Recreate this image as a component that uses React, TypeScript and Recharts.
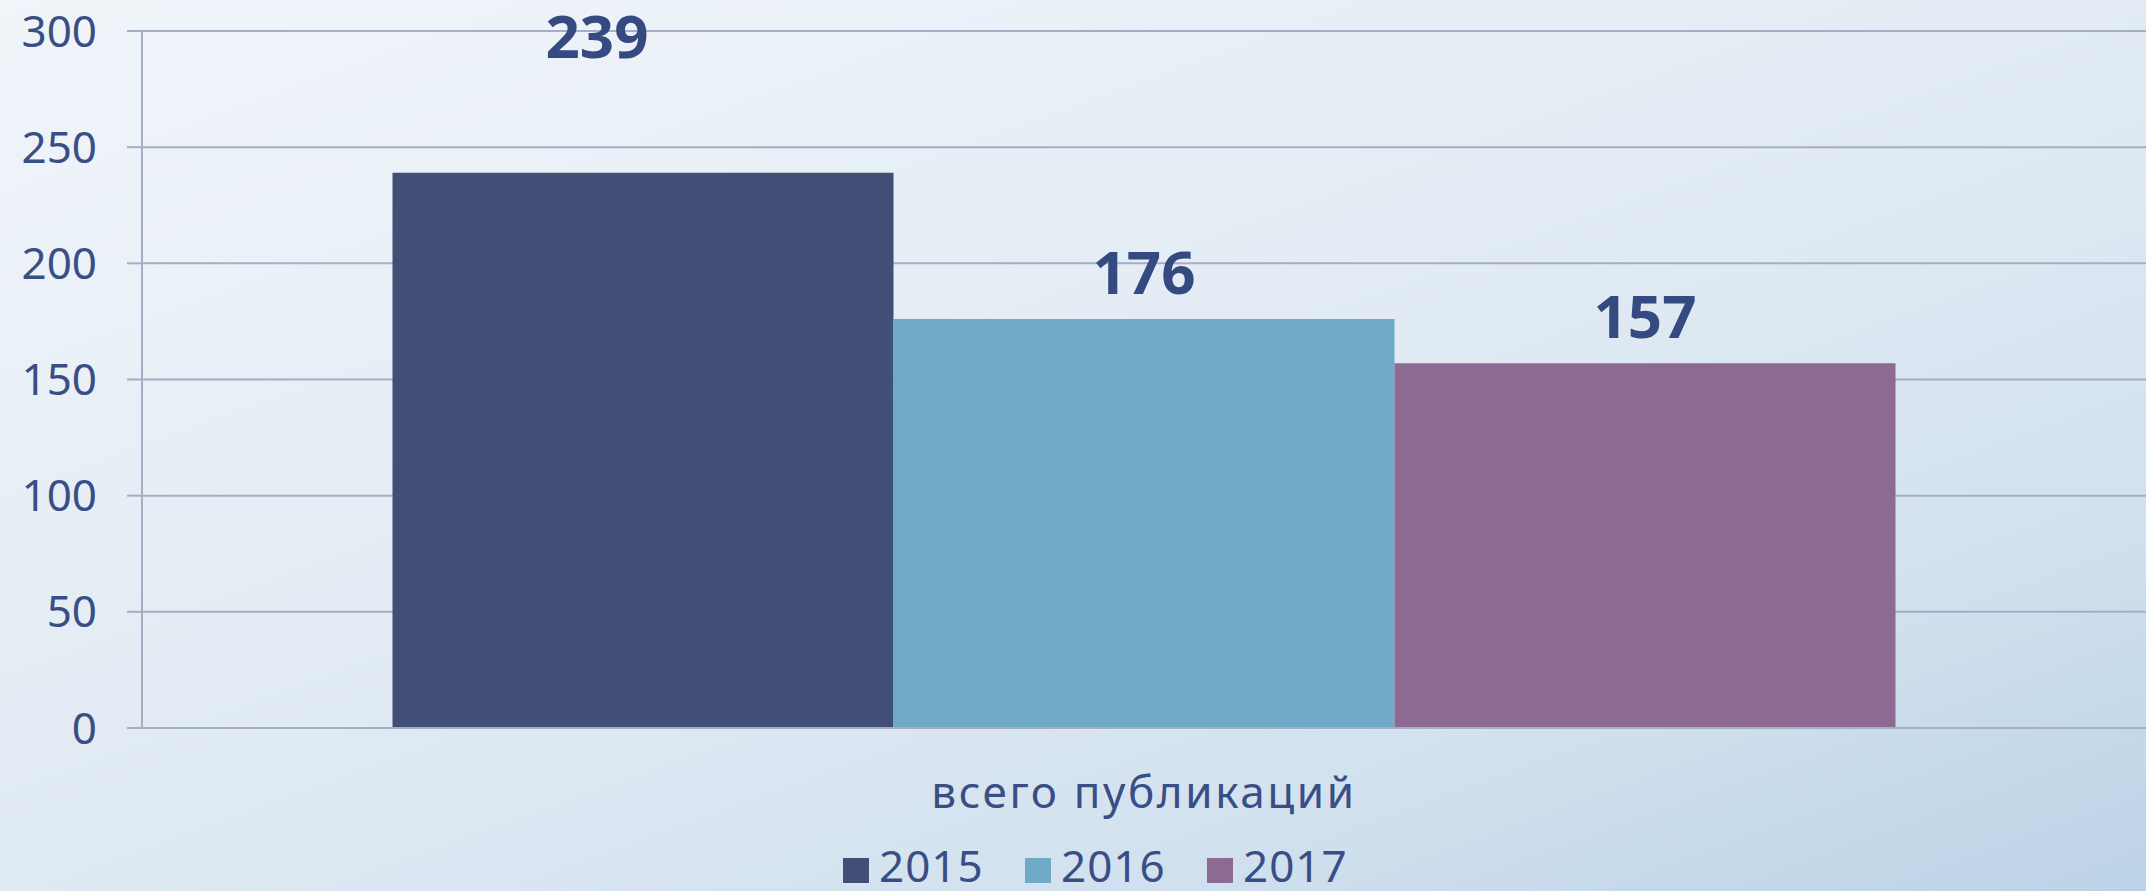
import { BarChart, Bar, XAxis, YAxis, CartesianGrid, LabelList } from "recharts";

const categories = ["всего публикаций"];
const years = ["2015", "2016", "2017"];
const values2015 = [239];
const values2016 = [176];
const values2017 = [157];
const yTicks = [0, 50, 100, 150, 200, 250, 300];

const COLORS: Record<string, string> = {
  "2015": "#414f77",
  "2016": "#71aac6",
  "2017": "#8c6a92",
};

const TEXT = "#3a4e86";
const GRID = "#a6aec3";
const FONT = "'Noto Sans', 'DejaVu Sans', sans-serif";

const data = categories.map((name, i) => ({
  name,
  "2015": values2015[i],
  "2016": values2016[i],
  "2017": values2017[i],
}));

// value label above a bar; the first series label sits higher and to the left in the original
function makeLabel(dx: number, lift: number) {
  return (props: any) => {
    const { x, y, width, value } = props;
    return (
      <text
        x={x + width / 2 + dx}
        y={y - 25 - lift}
        textAnchor="middle"
        fill="#354a80"
        fontFamily={FONT}
        fontWeight={700}
        fontSize={60}
      >
        {value}
      </text>
    );
  };
}

function CategoryTick(props: any) {
  const { x, payload } = props;
  return (
    <text x={x} y={808} textAnchor="middle" fill={TEXT} fontFamily={FONT} fontSize={44} letterSpacing={2.6}>
      {payload.value}
    </text>
  );
}

function YearLegend() {
  return (
    <div style={{ position: "absolute", left: 843, top: 843, display: "flex" }}>
      {years.map((yr) => (
        <div key={yr} style={{ display: "flex", alignItems: "flex-end", width: 182, height: 44 }}>
          <div style={{ width: 26, height: 25, background: COLORS[yr], marginBottom: 4, marginRight: 10 }} />
          <span style={{ fontFamily: FONT, fontSize: 44, color: TEXT, lineHeight: "44px", letterSpacing: 1 }}>{yr}</span>
        </div>
      ))}
    </div>
  );
}

export default function App() {
  return (
    <div
      style={{
        position: "fixed",
        left: 0,
        top: 0,
        width: 2146,
        height: 891,
        overflow: "hidden",
        background: "linear-gradient(160deg, #f0f5fa 0%, #e3ecf4 45%, #d3e2ef 75%, #bcd2e6 100%)",
      }}
    >
      <BarChart
        width={2146}
        height={891}
        data={data}
        margin={{ top: 31, right: 0, bottom: 0, left: 0 }}
        barCategoryGap="12.5%"
        barGap={0}
      >
        <CartesianGrid horizontal vertical={false} stroke={GRID} strokeWidth={2} />
        <XAxis
          dataKey="name"
          axisLine={{ stroke: GRID, strokeWidth: 2 }}
          tickLine={false}
          tick={<CategoryTick />}
          height={163}
        />
        <YAxis
          domain={[0, 300]}
          ticks={yTicks}
          width={142}
          axisLine={{ stroke: GRID, strokeWidth: 2 }}
          tickLine={{ stroke: GRID, strokeWidth: 2 }}
          tickSize={15}
          tickMargin={30}
          tick={{ fill: TEXT, fontSize: 44, fontFamily: FONT }}
        />
        {years.map((yr, i) => (
          <Bar key={yr} dataKey={yr} fill={COLORS[yr]} isAnimationActive={false}>
            <LabelList dataKey={yr} content={i === 0 ? makeLabel(-46, 90) : makeLabel(0, 0)} />
          </Bar>
        ))}
      </BarChart>
      <YearLegend />
    </div>
  );
}
